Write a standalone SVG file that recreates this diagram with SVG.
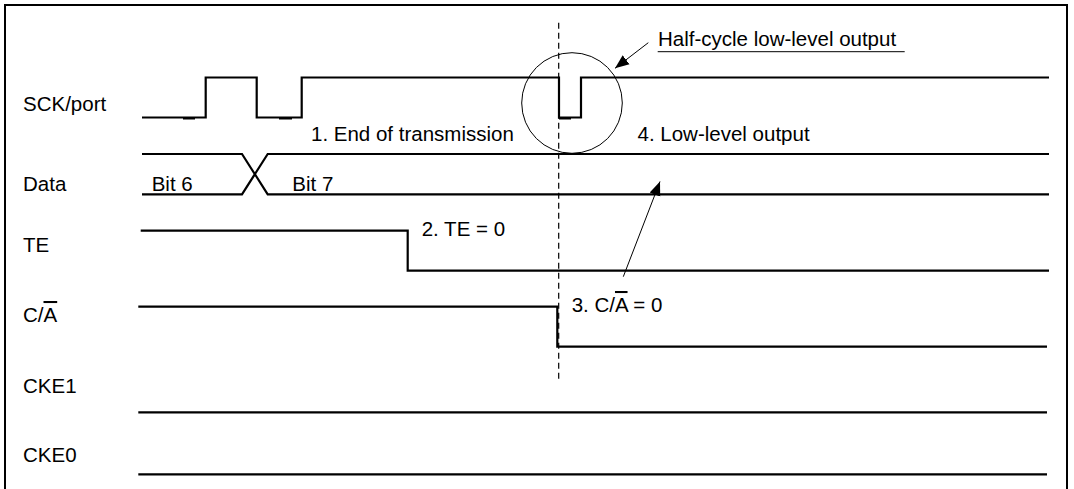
<svg xmlns="http://www.w3.org/2000/svg" width="1074" height="489" viewBox="0 0 1074 489">
<style>
  text { font-family: "Liberation Sans", Arial, sans-serif; font-size: 20.5px; fill: #000; }
  .sig { fill: none; stroke: #000; stroke-width: 2.2; stroke-linejoin: miter; }
  .thin { fill: none; stroke: #000; stroke-width: 1; }
  .dash { fill: none; stroke: #000; stroke-width: 1.2; stroke-dasharray: 6 4; }
  .ol { text-decoration: overline; }
</style>
<defs>
  <marker id="ah" viewBox="0 0 10 10" refX="10" refY="5" markerWidth="14" markerHeight="14" markerUnits="userSpaceOnUse" orient="auto">
    <path d="M0,1 L10,5 L0,9 Z" fill="#000"/>
  </marker>
</defs>
<rect x="0" y="0" width="1074" height="489" fill="#fff"/>
<rect x="5" y="5" width="1062" height="520" fill="none" stroke="#000" stroke-width="2"/>

<g id="sck">
  <text x="23" y="111">SCK/port</text>
  <path class="sig" d="M142,117.5 H205.7 V77.5 H256.7 V117.5 H301.7 V77.5 H559 V117.5 H581 V77.5 H1049"/>
  <path class="sig" d="M183,118.5 H195 M279,118.5 H292 M559,118.5 H571"/>
</g>
<g id="data">
  <text x="23" y="191">Data</text>
  <path class="sig" d="M142,154 H242 L267.7,194.3 H1049 M142,194.3 H242 L267.7,154 H1049"/>
  <text x="151.7" y="191">Bit 6</text>
  <text x="292.3" y="191">Bit 7</text>
</g>
<g id="te">
  <text x="23" y="252">TE</text>
  <path class="sig" d="M140.7,230.7 H407.7 V270.7 H1049"/>
  <text x="421.7" y="236">2. TE = 0</text>
</g>
<g id="ca">
  <text x="23" y="322">C/<tspan class="ol">A</tspan></text>
  <path class="sig" d="M138.3,306.7 H557.3 V346.7 H1047"/>
  <text x="571.7" y="312">3. C/<tspan class="ol">A</tspan> = 0</text>
</g>
<g id="cke1">
  <text x="23" y="393">CKE1</text>
  <path class="sig" d="M138.3,412.3 H1047"/>
</g>
<g id="cke0">
  <text x="23" y="462">CKE0</text>
  <path class="sig" d="M138.3,474.3 H1047"/>
</g>
<g id="annotations">
  <text x="311" y="141">1. End of transmission</text>
  <text x="637.5" y="141">4. Low-level output</text>
  <text x="658" y="46">Half-cycle low-level output</text>
  <line class="thin" x1="657.7" y1="51.7" x2="904.7" y2="51.7"/>
  <circle class="thin" cx="572" cy="103" r="50.3"/>
</g>
<g id="connectors">
  <line class="dash" x1="558.7" y1="22.7" x2="558.7" y2="382.7"/>
  <line class="thin" x1="648.3" y1="42.7" x2="615" y2="68.3" marker-end="url(#ah)"/>
  <line class="thin" x1="623.3" y1="276.7" x2="660" y2="181.5" marker-end="url(#ah)"/>
</g>
</svg>
